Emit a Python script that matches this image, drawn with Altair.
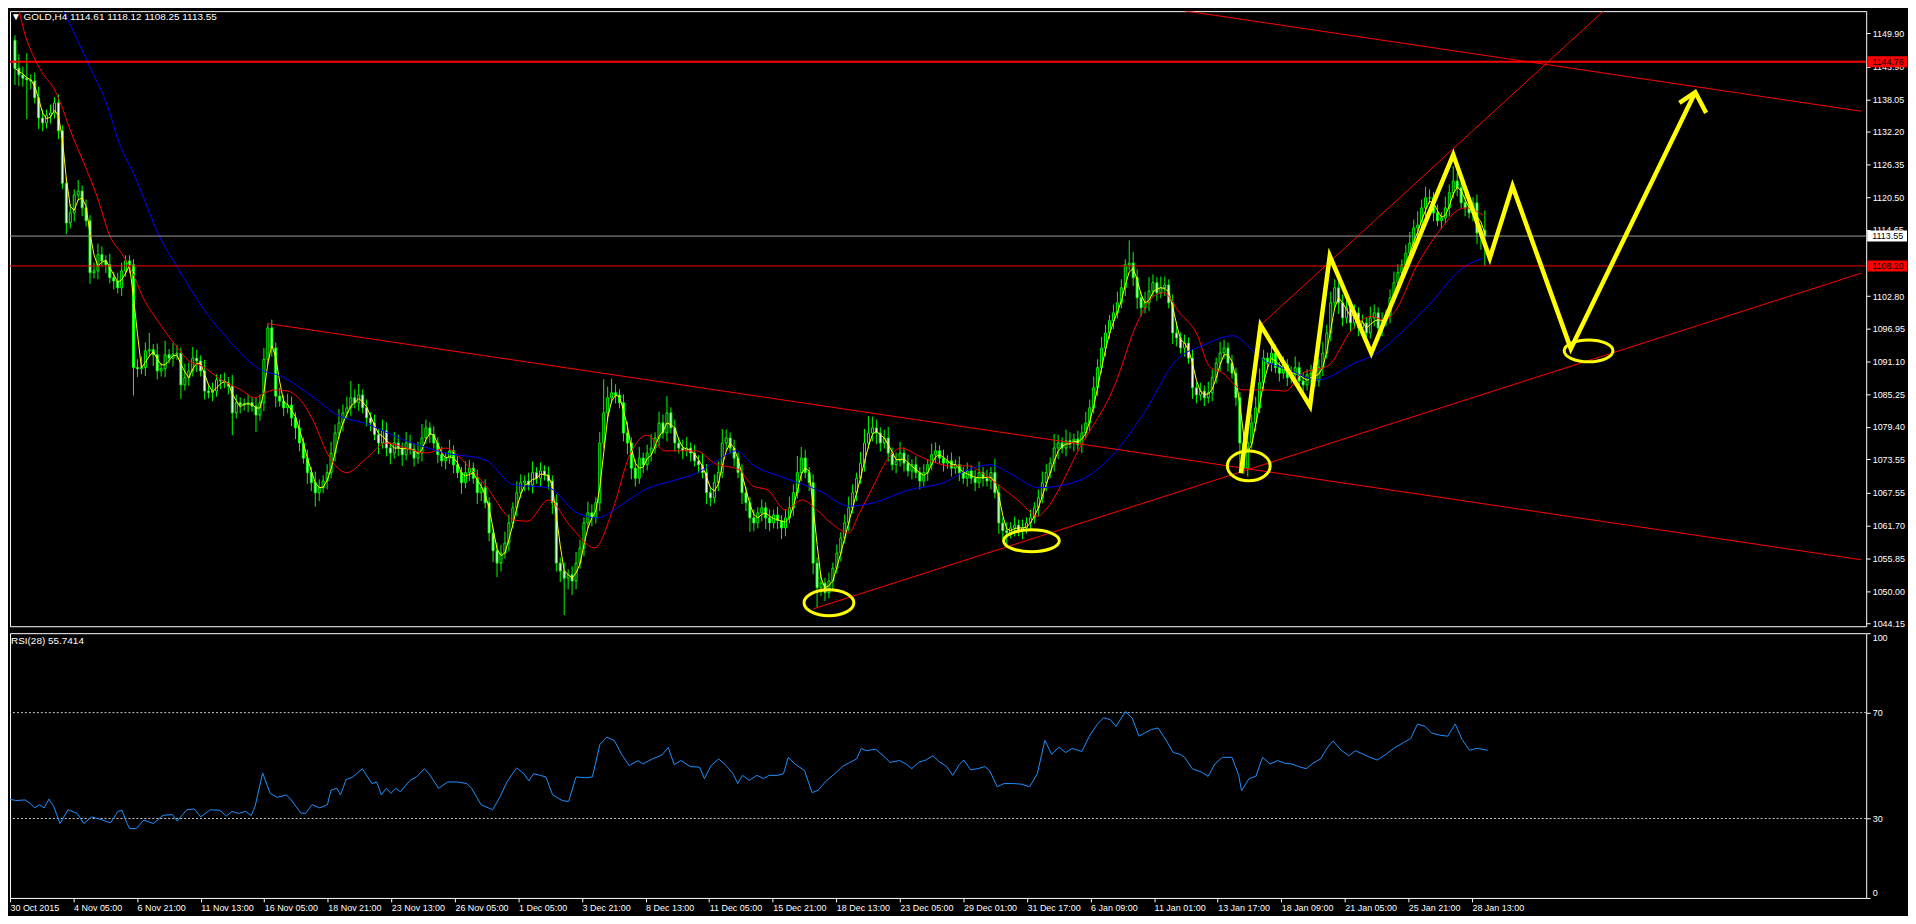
import json
import altair as alt
import pandas as pd

FONT = "Liberation Sans"
LIME = "#00ff00"
YEL = "#ffff00"
RED = "#ff0000"

# ---------------- data ----------------
first_open = 1148.6
closes = [
    1143.6, 1142.4, 1141.8, 1141.5, 1141.3, 1138.3, 1134.7, 1133.8, 1135.2, 1135.6,
    1137.4, 1132.4, 1123.0, 1115.9, 1117.7, 1120.9, 1121.6, 1118.6, 1116.3, 1107.0,
    1107.3, 1110.2, 1109.1, 1108.4, 1106.1, 1105.5, 1104.3, 1107.3, 1109.1, 1108.4,
    1090.0, 1089.8, 1090.0, 1093.0, 1093.2, 1092.3, 1089.4, 1089.8, 1092.3, 1091.7,
    1092.4, 1092.6, 1086.9, 1088.2, 1089.4, 1091.7, 1091.2, 1089.4, 1085.8, 1085.5,
    1085.8, 1087.8, 1087.6, 1087.3, 1086.7, 1081.9, 1083.7, 1083.3, 1083.5, 1083.7,
    1083.1, 1081.5, 1083.7, 1091.5, 1097.1, 1093.5, 1084.9, 1084.0, 1082.8, 1083.3,
    1081.0, 1079.2, 1076.5, 1073.8, 1071.2, 1069.4, 1067.6, 1068.5, 1069.7, 1071.2,
    1074.7, 1078.3, 1080.1, 1081.9, 1082.8, 1084.6, 1083.7, 1085.1, 1082.8, 1081.0,
    1080.1, 1078.0, 1076.5, 1078.7, 1075.6, 1074.7, 1076.5, 1075.6, 1074.4, 1076.5,
    1075.4, 1073.8, 1074.7, 1077.4, 1079.2, 1078.0, 1076.5, 1074.4, 1073.3, 1073.8,
    1075.1, 1072.6, 1071.2, 1069.4, 1071.2, 1072.0, 1070.2, 1067.6, 1068.5, 1065.8,
    1060.4, 1057.2, 1055.0, 1056.8, 1058.6, 1062.2, 1064.9, 1067.6, 1069.4, 1069.7,
    1069.0, 1071.2, 1070.2, 1071.5, 1070.8, 1069.7, 1065.8, 1055.0, 1053.6, 1052.3,
    1052.9, 1051.8, 1055.0, 1057.7, 1062.2, 1064.0, 1063.1, 1065.8, 1076.5, 1081.9,
    1084.6, 1085.5, 1085.1, 1083.7, 1078.3, 1076.5, 1072.0, 1070.2, 1073.8, 1072.6,
    1074.7, 1075.6, 1077.4, 1080.1, 1078.3, 1081.9, 1079.2, 1076.5, 1075.6, 1075.1,
    1075.6, 1074.7, 1073.3, 1072.6, 1071.2, 1067.6, 1066.7, 1069.4, 1071.2, 1076.5,
    1077.4, 1075.6, 1073.8, 1071.2, 1067.6, 1065.8, 1063.1, 1062.2, 1064.0, 1064.9,
    1063.1, 1062.2, 1063.6, 1062.6, 1061.3, 1063.1, 1064.9, 1067.6, 1071.2, 1073.8,
    1071.2, 1069.4, 1055.0, 1050.6, 1051.4, 1049.7, 1051.8, 1054.1, 1056.8, 1059.5,
    1062.2, 1064.9, 1067.6, 1070.2, 1072.9, 1076.5, 1078.3, 1079.2, 1078.3, 1076.5,
    1077.4, 1074.7, 1072.6, 1073.3, 1074.7, 1072.9, 1071.5, 1072.6, 1071.2, 1069.7,
    1071.2, 1072.6, 1074.4, 1075.1, 1073.8, 1072.9, 1073.3, 1072.0, 1072.6, 1071.2,
    1070.2, 1071.5, 1070.2, 1069.4, 1071.2, 1070.2, 1069.7, 1071.2, 1067.6, 1062.2,
    1060.8, 1060.4, 1061.3, 1061.8, 1060.8, 1061.3, 1062.2, 1063.1, 1064.9, 1066.7,
    1069.4, 1071.2, 1072.9, 1075.6, 1076.5, 1075.6, 1076.9, 1076.5, 1077.2, 1076.2,
    1078.3, 1080.1, 1082.8, 1086.4, 1090.0, 1093.5, 1096.2, 1098.4, 1099.8, 1101.6,
    1104.3, 1108.4, 1108.7, 1106.1, 1102.5, 1100.7, 1101.6, 1103.7, 1105.2, 1103.4,
    1104.3, 1104.8, 1101.6, 1096.2, 1095.3, 1093.5, 1094.4, 1091.7, 1086.4, 1085.1,
    1085.8, 1084.6, 1085.5, 1088.2, 1090.8, 1092.6, 1093.5, 1090.8, 1089.0, 1084.6,
    1076.5, 1072.0, 1076.5, 1080.1, 1082.8, 1087.3, 1091.7, 1090.8, 1092.6, 1090.0,
    1089.0, 1090.5, 1088.2, 1088.7, 1090.0, 1087.6, 1086.9, 1088.7, 1089.0, 1087.6,
    1090.0, 1092.6, 1096.2, 1101.6, 1104.3, 1101.6, 1098.9, 1100.7, 1098.0, 1099.8,
    1097.1, 1098.0, 1096.2, 1098.9, 1099.8, 1097.1, 1098.4, 1099.4, 1102.5, 1105.2,
    1107.0, 1108.4, 1110.5, 1112.3, 1115.0, 1115.5, 1118.6, 1120.4, 1120.4, 1117.7,
    1116.3, 1116.8, 1118.6, 1121.3, 1123.4, 1122.2, 1119.5, 1118.6, 1117.7, 1119.5,
    1114.1, 1114.61, 1113.55,
]
wick_up = [
    0.9, 2.5, 1.5, 4.5, 1.0, 1.5, 2.0, 1.5, 1.0, 1.5,
    1.0, 1.5, 1.0, 1.0, 1.5, 1.0, 2.0, 1.0, 1.5, 1.0,
    1.5, 2.0, 1.5, 1.0, 2.0, 1.0, 1.5, 1.5, 1.0, 1.0,
    1.0, 1.5, 2.0, 1.5, 3.0, 1.0, 2.0, 1.0, 2.5, 1.0,
    2.0, 1.5, 1.0, 2.5, 1.5, 2.0, 1.5, 1.0, 2.0, 1.0,
    1.5, 1.0, 1.0, 1.5, 1.0, 2.0, 1.5, 1.0, 1.0, 1.5,
    1.0, 1.5, 1.5, 2.0, 0.7, 1.5, 1.0, 1.5, 1.0, 2.0,
    1.5, 1.0, 1.5, 1.0, 1.5, 1.0, 2.0, 1.5, 1.0, 1.5,
    2.0, 1.5, 2.5, 1.5, 2.0, 3.0, 1.5, 2.0, 1.0, 1.5,
    1.0, 1.5, 1.0, 2.0, 1.5, 1.0, 2.0, 1.5, 1.0, 2.0,
    1.5, 1.0, 2.0, 2.5, 1.5, 1.0, 1.5, 1.0, 1.5, 1.0,
    2.0, 1.0, 1.5, 1.0, 2.0, 1.5, 1.0, 1.5, 1.0, 1.5,
    1.0, 1.0, 1.5, 1.5, 2.0, 1.5, 1.0, 2.0, 1.5, 1.0,
    1.5, 2.0, 1.0, 1.5, 1.0, 1.5, 1.0, 1.5, 1.0, 1.5,
    1.0, 1.5, 2.0, 1.5, 1.0, 2.0, 1.5, 1.0, 2.0, 6.0,
    2.0, 2.5, 1.5, 1.0, 1.5, 2.0, 1.0, 1.5, 2.0, 1.0,
    1.5, 2.5, 1.0, 2.0, 1.5, 3.0, 1.0, 1.5, 1.0, 1.5,
    2.0, 1.0, 1.5, 1.0, 2.0, 1.5, 1.0, 1.5, 2.0, 2.5,
    1.5, 1.0, 1.5, 1.0, 1.5, 1.0, 1.0, 1.5, 1.0, 1.5,
    1.0, 1.5, 1.0, 1.5, 1.0, 1.5, 2.0, 1.5, 3.0, 2.0,
    1.5, 1.0, 1.5, 1.0, 1.5, 1.0, 1.5, 1.0, 1.5, 1.0,
    1.5, 2.0, 1.5, 1.0, 2.0, 2.5, 3.0, 2.0, 1.5, 1.0,
    1.5, 2.0, 1.0, 1.5, 2.0, 1.0, 1.5, 1.0, 1.5, 1.0,
    1.5, 1.0, 2.0, 1.5, 1.0, 1.5, 1.0, 1.5, 1.0, 1.5,
    1.0, 1.5, 1.0, 1.5, 2.0, 1.0, 1.5, 1.0, 2.5, 1.5,
    1.0, 1.5, 1.0, 1.5, 1.0, 1.5, 1.0, 1.5, 1.0, 1.5,
    2.0, 1.5, 1.0, 2.5, 1.5, 1.0, 2.0, 1.5, 1.0, 1.5,
    1.5, 2.0, 1.5, 2.0, 1.5, 2.0, 1.5, 1.0, 1.5, 2.0,
    1.5, 1.0, 4.1, 2.0, 1.5, 1.0, 2.0, 2.5, 1.5, 1.0,
    2.0, 1.5, 1.0, 1.5, 2.0, 1.0, 1.5, 1.0, 1.5, 1.0,
    1.5, 1.0, 2.0, 1.5, 1.0, 2.0, 1.5, 1.0, 1.5, 1.0,
    1.0, 1.5, 2.0, 1.5, 2.0, 2.5, 1.5, 1.0, 2.0, 1.5,
    1.0, 1.5, 1.0, 1.5, 2.0, 1.0, 1.5, 1.0, 1.5, 1.0,
    1.5, 2.0, 1.5, 2.0, 1.5, 1.0, 1.5, 2.0, 1.0, 1.5,
    1.0, 1.5, 1.0, 2.0, 1.5, 1.0, 1.5, 1.0, 1.5, 2.0,
    1.5, 1.0, 1.5, 2.0, 1.5, 2.5, 1.5, 2.0, 1.5, 1.0,
    1.5, 1.0, 2.0, 1.5, 2.7, 1.5, 1.0, 1.5, 2.0, 1.0,
    1.5, 1.0, 3.51,
]
wick_dn = [
    3.0, 2.0, 1.5, 7.0, 1.5, 1.0, 2.0, 1.5, 1.0, 1.5,
    1.0, 1.5, 1.0, 2.0, 1.0, 1.5, 1.0, 1.5, 1.0, 2.0,
    1.0, 1.5, 1.0, 1.5, 1.0, 1.5, 1.0, 1.5, 1.0, 1.5,
    5.0, 1.5, 1.0, 1.5, 1.0, 2.0, 1.5, 1.0, 1.5, 1.0,
    1.5, 1.0, 2.5, 1.0, 1.5, 1.0, 2.0, 1.0, 1.5, 1.0,
    1.5, 1.0, 1.5, 1.0, 1.5, 4.0, 1.0, 1.5, 1.0, 1.5,
    1.0, 3.0, 1.0, 1.5, 1.0, 1.5, 2.0, 1.0, 1.5, 1.0,
    1.5, 2.0, 1.5, 1.0, 2.0, 1.5, 2.5, 1.5, 1.0, 1.5,
    1.0, 1.5, 1.0, 1.5, 1.0, 1.5, 1.0, 1.5, 1.0, 1.5,
    1.5, 1.0, 2.0, 1.0, 1.5, 2.0, 1.0, 1.5, 2.0, 1.0,
    1.0, 1.5, 1.0, 1.5, 1.0, 1.5, 1.0, 1.5, 1.0, 1.5,
    1.0, 1.5, 1.0, 2.0, 1.0, 1.5, 1.0, 2.0, 1.5, 1.0,
    1.5, 2.0, 2.5, 1.5, 1.0, 1.5, 1.0, 1.5, 1.0, 1.5,
    1.0, 1.5, 1.0, 1.5, 1.0, 1.5, 2.0, 1.5, 2.0, 6.6,
    2.0, 2.5, 1.5, 1.0, 1.5, 1.0, 1.5, 1.0, 1.5, 1.0,
    1.5, 1.0, 1.5, 1.0, 1.5, 2.0, 2.0, 1.5, 1.0, 1.5,
    1.0, 1.5, 1.0, 1.5, 1.0, 1.5, 1.0, 1.5, 1.0, 1.5,
    1.0, 1.5, 1.0, 1.5, 1.0, 2.0, 1.5, 1.0, 1.5, 1.0,
    1.5, 1.0, 1.5, 1.0, 2.0, 1.5, 2.5, 1.5, 1.0, 1.5,
    2.0, 1.5, 1.0, 1.5, 2.0, 1.5, 1.0, 1.5, 1.0, 1.5,
    1.0, 1.5, 2.0, 3.5, 1.5, 1.5, 1.0, 1.5, 1.0, 1.5,
    1.0, 1.5, 1.0, 1.5, 1.0, 1.5, 1.0, 1.5, 2.0, 1.5,
    1.0, 1.5, 1.0, 1.5, 1.0, 1.5, 1.0, 1.5, 1.0, 1.5,
    1.0, 1.5, 1.0, 1.5, 1.0, 1.5, 1.0, 1.5, 1.0, 1.5,
    1.0, 1.5, 1.0, 1.5, 1.0, 1.5, 1.0, 1.5, 1.0, 2.0,
    1.5, 2.0, 1.0, 1.5, 1.0, 1.5, 1.0, 1.5, 1.0, 1.5,
    1.0, 1.5, 1.0, 1.5, 2.0, 1.0, 1.5, 1.0, 1.5, 1.0,
    1.5, 1.0, 1.5, 1.0, 1.5, 1.0, 1.5, 1.0, 1.5, 1.0,
    1.0, 1.5, 1.0, 1.5, 2.0, 1.5, 1.0, 1.5, 1.0, 1.5,
    1.0, 1.5, 1.0, 2.0, 1.5, 1.0, 1.5, 1.0, 2.0, 1.5,
    1.0, 1.5, 1.0, 1.5, 1.0, 1.5, 1.0, 1.5, 1.0, 1.5,
    5.0, 1.0, 1.5, 1.0, 1.5, 1.0, 1.5, 1.0, 1.5, 1.0,
    1.5, 1.0, 1.5, 1.0, 1.5, 1.0, 1.5, 1.0, 1.5, 1.0,
    1.0, 1.5, 1.0, 1.5, 1.0, 2.0, 1.5, 1.0, 1.5, 1.0,
    1.5, 1.0, 1.5, 1.0, 1.5, 1.0, 1.5, 1.0, 1.5, 1.0,
    1.0, 1.5, 1.0, 1.5, 1.0, 1.5, 1.0, 1.5, 1.0, 1.5,
    1.0, 1.5, 1.0, 1.5, 1.0, 1.5, 1.0, 1.5, 1.0, 1.5,
    2.0, 3.0, 5.3,
]

# moving averages (bar index, price) read along the red and blue curves
ma_red_bar = [0, 2.25, 5.25, 7.25, 9.75, 11.5, 14, 17.75, 20.75, 24, 27.25, 29.75, 32.25, 36.5,
              40.75, 44, 47.25, 52.25, 57.25, 60.75, 63.25, 65.75, 69, 72.25, 75.75, 79, 84, 89,
              94, 99, 104, 109, 114, 119, 126.25, 129.75, 135, 140.5, 146.75, 151.25, 155.5, 160,
              164.5, 172.5, 177, 183.25, 186.75, 190.5, 195, 199.25, 203, 206.5, 211, 213.75,
              217.25, 220.75, 224.25, 228.75, 233.25, 236.75, 241.25, 245.75, 249.25, 253.75, 259,
              260.75, 269.75, 278.25, 284, 288.25, 290.75, 294.75, 299, 302.25, 305.75, 310.75,
              317.25, 321.5, 325.75, 332.25, 338.25, 343.25, 346.5, 349, 354.75, 361.5, 364.75,
              367.25, 371.5]
ma_red_val = [1157.5, 1150.4, 1144.9, 1142.4, 1140.1, 1137.4, 1132.5, 1126.1, 1120.7, 1113.6,
              1110.2, 1107.0, 1102.8, 1098.0, 1093.9, 1091.2, 1090.3, 1087.8, 1086.0, 1084.6,
              1085.5, 1086.0, 1085.8, 1084.2, 1080.1, 1074.7, 1071.2, 1073.8, 1076.5, 1075.6,
              1074.7, 1075.6, 1072.9, 1069.0, 1062.7, 1062.5, 1066.3, 1061.7, 1057.7, 1064.5,
              1074.2, 1077.9, 1075.1, 1075.1, 1072.9, 1071.7, 1068.8, 1068.1, 1064.5, 1066.3,
              1064.5, 1062.2, 1060.4, 1064.0, 1068.8, 1073.5, 1075.6, 1074.2, 1072.9, 1072.4,
              1072.4, 1070.6, 1068.8, 1066.3, 1063.4, 1064.5, 1076.0, 1086.7, 1098.0, 1102.8,
              1103.4, 1099.8, 1096.2, 1090.3, 1089.0, 1086.0, 1086.0, 1085.8, 1089.0, 1090.3,
              1096.7, 1099.2, 1098.5, 1099.8, 1108.2, 1115.4, 1118.0, 1118.6, 1117.3]
ma_blue_bar = [0, 11, 18.25, 24, 25.75, 30.75, 36.5, 41.5, 47.25, 54, 62.25, 67.25, 74, 82.25,
               88.25, 99, 109, 119, 126.25, 135, 142.25, 147.5, 153, 159.25, 167.25, 172.5, 178,
               182.5, 186.75, 195, 203.75, 211, 217.25, 226.25, 235, 242.25, 246.75, 253, 259,
               269, 278.25, 285.75, 294, 300.75, 308.25, 315.75, 322.25, 329.75, 339, 344.75,
               350.75, 359, 365.75, 371.5]
ma_blue_val = [1163.0, 1155.3, 1144.9, 1135.6, 1131.5, 1123.6, 1113.6, 1107.5, 1101.0, 1095.0,
               1089.6, 1088.5, 1085.5, 1081.3, 1080.1, 1076.9, 1074.7, 1073.5, 1069.0, 1068.5,
               1064.0, 1063.1, 1065.2, 1068.1, 1069.9, 1071.1, 1073.5, 1075.1, 1072.6, 1070.2,
               1067.9, 1065.2, 1065.8, 1068.1, 1069.4, 1072.0, 1072.6, 1070.6, 1068.5, 1069.7,
               1074.7, 1081.9, 1091.4, 1094.0, 1095.7, 1091.4, 1089.6, 1087.8, 1090.8, 1092.6,
               1096.2, 1102.1, 1107.5, 1109.6]

# RSI(28): (bar index, value)
rsi_points = [
    (0, 37.3), (1.4, 36.8), (3.8, 37.0), (5.0, 35.8), (6.2, 34.0), (7.4, 35.2), (8.6, 34.0),
    (9.8, 37.3), (11.0, 34.6), (12.6, 28.1), (14.6, 33.3), (16.9, 31.9), (18.6, 28.1),
    (20.5, 30.6), (22.9, 29.6), (25.3, 28.4), (27.2, 32.7), (28.2, 33.1), (29.4, 28.4),
    (30.1, 26.2), (31.8, 26.2), (33.7, 29.4), (36.1, 28.1), (38.5, 31.2), (40.9, 31.5),
    (42.1, 29.0), (44.5, 33.3), (46.4, 33.6), (48.0, 30.6), (50.4, 33.3), (52.8, 33.1),
    (54.5, 30.9), (55.9, 32.7), (57.6, 31.9), (59.3, 32.7), (60.7, 31.1), (61.7, 34.6),
    (63.6, 47.2), (65.5, 39.5), (67.2, 38.0), (69.6, 38.9), (70.8, 37.0), (73.2, 32.1),
    (74.4, 31.9), (76.0, 35.2), (78.0, 34.0), (79.9, 35.2), (80.8, 40.7), (82.3, 41.4),
    (83.2, 38.9), (84.6, 44.7), (86.3, 45.7), (88.7, 48.8), (91.1, 43.2), (92.3, 43.8),
    (93.5, 38.9), (94.7, 41.4), (95.9, 39.5), (97.1, 41.4), (98.3, 40.1), (100.7, 44.4),
    (102.3, 45.7), (104.3, 48.8), (105.5, 46.9), (107.9, 41.4), (110.2, 43.8), (112.6, 43.8),
    (115.0, 43.2), (116.2, 41.4), (118.6, 35.2), (121.5, 33.3), (123.4, 38.3), (125.1, 43.8),
    (127.5, 49.1), (129.4, 46.9), (130.6, 44.2), (131.8, 46.9), (133.5, 46.3), (134.9, 45.7),
    (136.6, 38.9), (139.0, 36.8), (140.6, 36.4), (142.5, 45.7), (144.9, 45.4), (146.6, 45.7),
    (148.5, 58.0), (150.2, 60.7), (152.1, 59.5), (154.0, 54.1), (155.9, 50.0), (158.1, 51.9),
    (159.3, 50.6), (161.7, 52.5), (164.1, 54.0), (165.7, 56.8), (167.2, 50.4), (168.9, 51.9),
    (171.2, 49.6), (173.6, 49.4), (174.8, 45.1), (176.5, 50.0), (178.4, 52.5), (180.3, 50.0),
    (182.0, 46.9), (183.2, 43.2), (184.4, 46.3), (186.1, 44.4), (188.0, 46.3), (189.7, 45.1),
    (191.1, 46.3), (193.3, 46.3), (194.7, 46.9), (195.9, 53.1), (197.6, 50.6), (200.0, 48.1),
    (201.9, 39.8), (203.5, 40.7), (205.2, 43.8), (207.6, 46.9), (209.5, 49.6), (211.4, 51.2),
    (213.1, 52.5), (214.3, 56.5), (215.5, 55.6), (217.9, 56.2), (220.3, 53.1), (221.5, 51.2),
    (223.9, 51.9), (225.8, 50.4), (227.0, 48.8), (228.7, 51.2), (230.6, 52.1), (232.3, 53.7),
    (233.9, 51.5), (235.8, 49.6), (237.3, 46.3), (239.0, 50.4), (240.1, 52.1), (241.8, 48.4),
    (243.5, 48.8), (245.4, 49.6), (246.6, 48.1), (248.5, 42.0), (250.2, 43.2), (252.6, 43.2),
    (254.5, 43.0), (256.7, 42.0), (258.6, 46.9), (260.5, 59.5), (262.2, 54.3), (264.1, 57.0),
    (265.7, 54.9), (267.4, 56.5), (269.8, 55.3), (271.7, 61.1), (273.6, 65.4), (275.3, 68.1),
    (277.0, 67.3), (278.4, 64.8), (280.8, 70.4), (282.5, 67.9), (284.2, 61.1), (285.6, 62.3),
    (287.3, 63.6), (289.0, 64.2), (290.9, 59.9), (292.8, 54.9), (294.5, 54.3), (295.7, 53.1),
    (297.6, 48.8), (300.0, 47.5), (301.6, 45.9), (303.3, 50.6), (305.2, 53.1), (307.6, 53.1),
    (309.3, 46.3), (310.0, 40.5), (311.9, 45.1), (313.6, 45.9), (315.3, 53.1), (317.2, 50.6),
    (319.1, 51.9), (320.8, 50.9), (322.7, 50.6), (324.4, 49.6), (326.3, 48.8), (328.0, 50.9),
    (329.9, 52.5), (331.5, 56.5), (333.0, 59.3), (335.1, 55.8), (337.0, 53.7), (338.7, 55.6),
    (340.6, 54.3), (342.3, 53.1), (344.2, 52.1), (346.4, 54.3), (348.3, 56.5), (350.7, 58.6),
    (352.6, 60.2), (354.3, 65.7), (356.2, 64.8), (357.8, 62.3), (359.8, 61.5), (361.9, 61.1),
    (363.8, 65.7), (365.5, 59.9), (367.4, 55.8), (369.3, 56.5), (372.0, 55.7414),
]

tick_bars = [0, 16, 32, 48, 64, 80, 96, 112, 128, 144, 160, 176, 192, 208, 224, 240, 256, 272,
             288, 304, 320, 336, 352, 368]
tick_labels = ["30 Oct 2015", "4 Nov 05:00", "6 Nov 21:00", "11 Nov 13:00", "16 Nov 05:00",
               "18 Nov 21:00", "23 Nov 13:00", "26 Nov 05:00", "1 Dec 05:00", "3 Dec 21:00",
               "8 Dec 13:00", "11 Dec 05:00", "15 Dec 21:00", "18 Dec 13:00", "23 Dec 05:00",
               "29 Dec 01:00", "31 Dec 17:00", "6 Jan 09:00", "11 Jan 01:00", "13 Jan 17:00",
               "18 Jan 09:00", "21 Jan 05:00", "25 Jan 21:00", "28 Jan 13:00"]
price_ticks = [1149.90, 1143.90, 1138.05, 1132.20, 1126.35, 1120.50, 1114.65, 1102.80, 1096.95,
               1091.10, 1085.25, 1079.40, 1073.55, 1067.55, 1061.70, 1055.85, 1050.00, 1044.15]
rsi_ticks = [0, 30, 70, 100]
rsi_levels = [30, 70]

level_resistance = 1144.76
level_bid = 1113.55
level_support = 1108.20

# trend lines: (bar, price) end points
trend_lines = {
    "channel_low": [(63.8, 1097.9), (467.25, 1055.6)],
    "channel_high": [(250.0, 1158.7), (467.25, 1135.9)],
    "rising_low": [(202.0, 1046.8), (467.25, 1106.9)],
    "rising_steep": [(315.25, 1097.6), (410.0, 1159.0)],
}
zigzag_bar = [310.25, 315.25, 327.75, 332.75, 343.25, 364.0, 373.25, 379.0, 393.75, 425.25]
zigzag_price = [1071.1, 1097.6, 1083.1, 1110.0, 1092.6, 1128.1, 1109.6, 1122.5, 1093.4, 1139.3]
arrow_bar = [421.25, 425.25, 428.0]
arrow_price = [1137.4, 1139.3, 1135.6]
ellipse_bar = [206.0, 257.25, 312.25, 398.25]
ellipse_price = [1047.9, 1059.0, 1072.4, 1093.0]

# ---------------- layout ----------------
W = 1865
H_MAIN = 618
H_RSI = 266
ellipse_px = [(50, 26), (56, 22), (43, 30), (49, 22)]  # drawn width, height in pixels

n = min(len(closes), len(wick_up), len(wick_dn))
opens = [first_open] + closes[: n - 1]
rows = []
for i in range(n):
    o, c = opens[i], closes[i]
    rows.append({"bar": i, "open": o, "close": c,
                 "high": round(max(o, c) + wick_up[i], 2),
                 "low": round(min(o, c) - wick_dn[i], 2)})
candles = pd.DataFrame(rows)
bull = candles[candles["close"] >= candles["open"]]
bear = candles[candles["close"] < candles["open"]]

xs = alt.Scale(domain=[0, 467.25], nice=False, zero=False)
ps = alt.Scale(domain=[1043.70, 1153.82], nice=False, zero=False)
rs = alt.Scale(domain=[0, 100], nice=False, zero=False)

price_axis = alt.Axis(orient="right", values=price_ticks, format=".2f", title=None, grid=False,
                      domain=False, tickColor="#ffffff", tickSize=4, labelColor="#ffffff",
                      labelFont=FONT, labelFontSize=9, labelPadding=2, labelOverlap=False,
                      labelFlush=False)
rsi_axis = alt.Axis(orient="right", values=rsi_ticks, title=None, grid=False, domain=False,
                    tickColor="#ffffff", tickSize=4, labelColor="#ffffff", labelFont=FONT,
                    labelFontSize=9, labelPadding=2, labelOverlap=False, labelFlush=True)
label_expr = f"{json.dumps(tick_labels)}[indexof({json.dumps(tick_bars)}, datum.value)]"
time_axis = alt.Axis(orient="bottom", values=tick_bars, labelExpr=label_expr, title=None,
                     grid=False, domain=False, tickColor="#ffffff", tickSize=4,
                     labelColor="#ffffff", labelFont=FONT, labelFontSize=9, labelAlign="left",
                     labelPadding=2, labelFlush=False, labelOverlap=False, labelBound=False)


def PX(f="bar"):
    return alt.X(f + ":Q", scale=xs, axis=None)


def PY(f):
    return alt.Y(f + ":Q", scale=ps, axis=price_axis)


layers = []
# candles
layers.append(alt.Chart(candles).mark_rule(color=LIME, strokeWidth=1, clip=True).encode(
    x=PX(), y=PY("low"), y2="high:Q"))
layers.append(alt.Chart(bull).mark_bar(size=2, fill="#000000", stroke=LIME, strokeWidth=1,
                                       clip=True).encode(x=PX(), y=PY("open"), y2="close:Q"))
layers.append(alt.Chart(bear).mark_bar(size=2, fill="#ffffff", stroke=LIME, strokeWidth=1,
                                       clip=True).encode(x=PX(), y=PY("open"), y2="close:Q"))
# yellow fast average of closes
layers.append(alt.Chart(candles).transform_window(
    sma="mean(close)", frame=[-2, 0], sort=[alt.SortField("bar")]
).mark_line(color=YEL, strokeWidth=1, clip=True).encode(x=PX(), y=PY("sma")))
# red and blue moving averages
red_df = pd.DataFrame({"bar": ma_red_bar, "price": ma_red_val})
blue_df = pd.DataFrame({"bar": ma_blue_bar, "price": ma_blue_val})
layers.append(alt.Chart(red_df).mark_line(color=RED, strokeWidth=1, interpolate="monotone",
                                          clip=True).encode(x=PX(), y=PY("price")))
layers.append(alt.Chart(blue_df).mark_line(color="#0000ff", strokeWidth=1, interpolate="monotone",
                                           clip=True).encode(x=PX(), y=PY("price")))
# horizontal levels
layers.append(alt.Chart(pd.DataFrame({"price": [level_resistance]})).mark_rule(
    color=RED, strokeWidth=2).encode(y=PY("price")))
layers.append(alt.Chart(pd.DataFrame({"price": [level_bid]})).mark_rule(
    color="#9a9a9a", strokeWidth=1).encode(y=PY("price")))
layers.append(alt.Chart(pd.DataFrame({"price": [level_support]})).mark_rule(
    color=RED, strokeWidth=1).encode(y=PY("price")))
# trend lines
tl_rows = []
for name, pts in trend_lines.items():
    for b, p in pts:
        tl_rows.append({"line": name, "bar": b, "price": p})
layers.append(alt.Chart(pd.DataFrame(tl_rows)).mark_line(color=RED, strokeWidth=1, clip=True)
              .encode(x=PX(), y=PY("price"), detail="line:N"))
# yellow projected path and arrow head
zz_rows = [{"seg": "path", "seq": k, "bar": b, "price": p}
           for k, (b, p) in enumerate(zip(zigzag_bar, zigzag_price))]
zz_rows += [{"seg": "head", "seq": k, "bar": b, "price": p}
            for k, (b, p) in enumerate(zip(arrow_bar, arrow_price))]
layers.append(alt.Chart(pd.DataFrame(zz_rows)).mark_line(
    color=YEL, strokeWidth=4.5, strokeJoin="miter", clip=True
).encode(x=PX(), y=PY("price"), detail="seg:N", order="seq:Q"))
# ellipses
for (b, p), (w, h) in zip(zip(ellipse_bar, ellipse_price), ellipse_px):
    r = h / w
    path = f"M -1 0 A 1 {r:.3f} 0 1 1 1 0 A 1 {r:.3f} 0 1 1 -1 0 Z"
    layers.append(alt.Chart(pd.DataFrame({"bar": [b], "price": [p]})).mark_point(
        shape=path, size=w * w, filled=False, color=YEL, strokeWidth=3, opacity=1
    ).encode(x=PX(), y=PY("price")))
# header
last = candles.iloc[-1]
header = (f"\u25bc  GOLD,H4  {last['open']:.2f} {last['high']:.2f} "
          f"{last['low']:.2f} {last['close']:.2f}")
layers.append(alt.Chart(pd.DataFrame({"t": [header]})).mark_text(
    align="left", baseline="middle", font=FONT, fontSize=10, color="#ffffff"
).encode(text="t:N", x=alt.value(1), y=alt.value(6)))
# price boxes on the right scale
for price, fill in [(level_resistance, RED), (level_bid, "#ffffff"), (level_support, RED)]:
    df = pd.DataFrame({"price": [price]})
    layers.append(alt.Chart(df).mark_tick(orient="horizontal", size=40, thickness=11,
                                          color=fill, opacity=1, clip=False)
                  .encode(x=alt.value(W + 21), y=PY("price")))
    layers.append(alt.Chart(df).mark_text(align="left", baseline="middle", font=FONT,
                                          fontSize=9, color="#000000", clip=False)
                  .encode(x=alt.value(W + 6), y=PY("price"),
                          text=alt.Text("price:Q", format=".2f")))

main = alt.layer(*layers).properties(width=W, height=H_MAIN)

# ---------------- RSI panel ----------------
rsi_df = pd.DataFrame(rsi_points, columns=["bar", "rsi"])
rx = alt.X("bar:Q", scale=xs, axis=time_axis)
rlayers = [
    alt.Chart(pd.DataFrame({"lvl": rsi_levels})).mark_rule(
        color="#c8c8c8", strokeWidth=1, strokeDash=[2, 2]
    ).encode(y=alt.Y("lvl:Q", scale=rs, axis=rsi_axis)),
    alt.Chart(rsi_df).mark_line(color="#1e90ff", strokeWidth=1, clip=True).encode(
        x=rx, y=alt.Y("rsi:Q", scale=rs, axis=rsi_axis)),
    alt.Chart(pd.DataFrame({"t": [f"RSI(28) {rsi_points[-1][1]:.4f}"]})).mark_text(
        align="left", baseline="middle", font=FONT, fontSize=10, color="#ffffff"
    ).encode(text="t:N", x=alt.value(1), y=alt.value(8)),
]
rsi = alt.layer(*rlayers).properties(width=W, height=H_RSI)

chart = alt.vconcat(main, rsi, spacing=3).properties(
    padding=0, background="#000000"
).configure_view(stroke="#ffffff", strokeWidth=1)

chart.save("out.html", embed_options={"renderer": "svg", "actions": False})
